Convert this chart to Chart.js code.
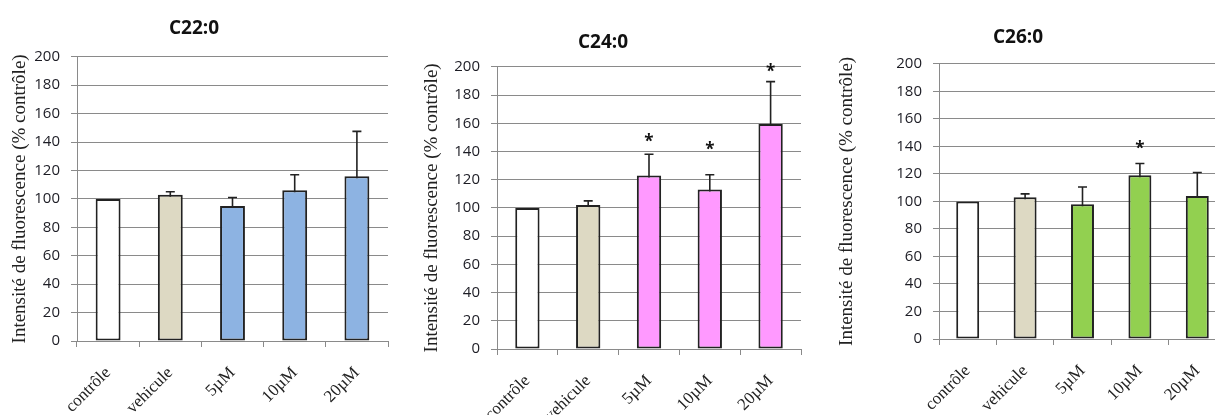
<!DOCTYPE html>
<html>
<head>
<meta charset="utf-8">
<script src="https://cdn.jsdelivr.net/npm/chart.js@4/dist/chart.umd.min.js"></script>
<style>
  html, body { margin: 0; padding: 0; background: #fff; overflow: hidden; }
  body { width: 1215px; height: 415px; position: relative; }
  .panel { position: absolute; top: 0; height: 415px; }
  .panel canvas { display: block; }
</style>
</head>
<body>
<div class="panel" id="p1" style="left:0px;width:420px;"><canvas id="chart_1"></canvas></div>
<div class="panel" id="p2" style="left:405px;width:422px;"><canvas id="chart_2"></canvas></div>
<div class="panel" id="p3" style="left:810px;width:438px;"><canvas id="chart_3"></canvas></div>
<script>
// categories and tick values
const categories = ["contrôle", "vehicule", "5µM", "10µM", "20µM"];
const yTicks = [0, 20, 40, 60, 80, 100, 120, 140, 160, 180, 200];

// C22:0
const c22Values = [100, 103, 95, 106, 116];
const c22Errors = [0, 2, 6, 11, 31.5];
const c22Stars = [null, null, null, null, null];

// C24:0
const c24Values = [100, 102, 123, 113, 159.5];
const c24Errors = [0, 3, 15, 10.5, 30];
const c24Stars = [null, null, 149, 143, 198.5];

// C26:0
const c26Values = [100, 103, 98, 119, 104];
const c26Errors = [0, 2.5, 12.5, 8.5, 17];
const c26Stars = [null, null, null, 140, null];

const yTitle = "Intensité de fluorescence (% contrôle)";

// error bars and asterisks, drawn from the scales
const extrasPlugin = {
  id: "extras",
  afterDatasetsDraw(chart, args, opts) {
    const ctx = chart.ctx;
    const meta = chart.getDatasetMeta(0);
    const y = chart.scales.y;
    const vals = chart.data.datasets[0].data;
    ctx.save();
    ctx.strokeStyle = "#222";
    ctx.lineWidth = 1.6;
    meta.data.forEach(function (bar, i) {
      const err = opts.errors[i];
      if (err > 0) {
        const top = y.getPixelForValue(vals[i] + err);
        const base = y.getPixelForValue(vals[i]) + 2;
        ctx.beginPath();
        ctx.moveTo(bar.x, base);
        ctx.lineTo(bar.x, top);
        ctx.moveTo(bar.x - 4.5, top);
        ctx.lineTo(bar.x + 4.5, top);
        ctx.stroke();
      }
      const s = opts.stars[i];
      if (s != null) {
        ctx.fillStyle = "#111";
        ctx.font = "bold 17px 'Open Sans'";
        ctx.textAlign = "center";
        ctx.textBaseline = "middle";
        ctx.fillText("*", bar.x, y.getPixelForValue(s) + 3);
      }
    });
    ctx.restore();
  },
};

function makeChart(id, title, values, errors, stars, fill, geo) {
  const colors = values.map(function (v, i) {
    if (i === 0) return "#ffffff";
    if (i === 1) return "#DDD9C3";
    return fill;
  });
  return new Chart(document.getElementById(id).getContext("2d"), {
    type: "bar",
    data: {
      labels: categories,
      datasets: [
        {
          data: values,
          backgroundColor: colors,
          borderColor: "#222",
          borderWidth: 2,
          borderSkipped: false,
          categoryPercentage: 1,
          barPercentage: 0.4,
        },
      ],
    },
    options: {
      responsive: true,
      maintainAspectRatio: false,
      animation: false,
      layout: {
        padding: { left: 0, right: geo.padRight, top: 0, bottom: 0 },
      },
      plugins: {
        legend: { display: false },
        tooltip: { enabled: false },
        title: {
          display: true,
          text: title,
          color: "#111",
          font: { family: "'Open Sans'", size: 19, weight: "bold" },
          padding: { top: geo.titleTop, bottom: geo.titleBottom },
        },
        extras: { errors: errors, stars: stars },
      },
      scales: {
        y: {
          min: 0,
          max: 200,
          afterBuildTicks: function (scale) {
            scale.ticks = yTicks.map(function (v) { return { value: v }; });
          },
          afterFit: function (scale) {
            scale.width = geo.yWidth;
          },
          ticks: {
            color: "#1c1c24",
            padding: 11,
            font: { family: "'Open Sans'", size: 15 },
          },
          grid: { color: "#8a8a8a", lineWidth: 1, tickLength: 6 },
          border: { color: "#8a8a8a", width: 1 },
          title: {
            display: true,
            text: yTitle,
            color: "#222",
            font: { family: "'Liberation Serif'", size: 19 },
            padding: { top: geo.yTitlePad, bottom: 0 },
          },
        },
        x: {
          afterFit: function (scale) {
            scale.height = geo.xHeight;
          },
          ticks: {
            color: "#222",
            minRotation: 45,
            maxRotation: 45,
            padding: 16,
            font: { family: "'Liberation Serif'", size: 17 },
          },
          grid: {
            offset: true,
            drawOnChartArea: false,
            color: "#8a8a8a",
            tickLength: 6,
          },
          border: { color: "#8a8a8a", width: 1 },
        },
      },
    },
    plugins: [extrasPlugin],
  });
}

makeChart("chart_1", "C22:0", c22Values, c22Errors, c22Stars, "#8DB3E2", {
  padRight: 32, titleTop: 17, titleBottom: 17, yWidth: 77, xHeight: 74, yTitlePad: 9,
});
makeChart("chart_2", "C24:0", c24Values, c24Errors, c24Stars, "#FF99FF", {
  padRight: 26, titleTop: 31, titleBottom: 13, yWidth: 92, xHeight: 66, yTitlePad: 16,
});
makeChart("chart_3", "C26:0", c26Values, c26Errors, c26Stars, "#92D050", {
  padRight: 22, titleTop: 26, titleBottom: 15, yWidth: 129, xHeight: 76, yTitlePad: 26,
});
</script>
</body>
</html>
